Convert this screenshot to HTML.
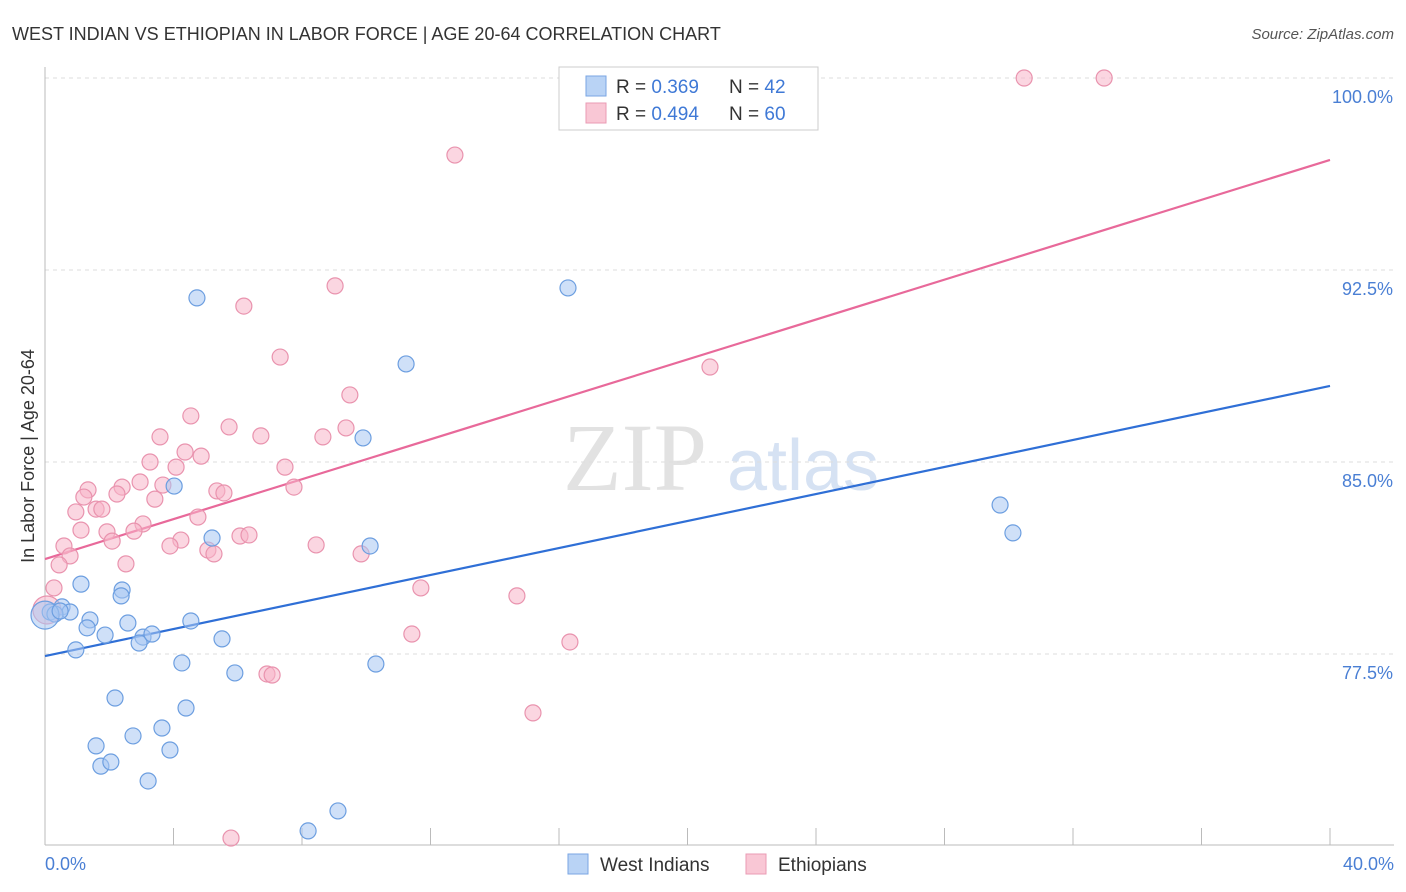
<!DOCTYPE html>
<html><head><meta charset="utf-8"><style>
body{margin:0;background:#fff;font-family:"Liberation Sans",sans-serif;}
svg{display:block}
</style></head><body>
<svg id="chart" width="1406" height="892" xmlns="http://www.w3.org/2000/svg">
<text x="12" y="40" font-size="18" fill="#333">WEST INDIAN VS ETHIOPIAN IN LABOR FORCE | AGE 20-64 CORRELATION CHART</text>
<text x="1394" y="39" font-size="15" fill="#555" text-anchor="end" font-style="italic">Source: ZipAtlas.com</text>
<g>
<text x="635" y="490" font-size="96" fill="#e2e2e2" font-family="Liberation Serif,serif" text-anchor="middle">ZIP</text>
<text x="803" y="490" font-size="72" fill="#d6e2f3" text-anchor="middle">atlas</text>
</g>
<g id="grid"></g>
<g id="axes"></g>
<g id="lines"></g>
<g id="points"></g>
<text transform="translate(34,456) rotate(-90)" font-size="18" fill="#333" text-anchor="middle">In Labor Force | Age 20-64</text>
<text x="45" y="870" font-size="18" fill="#4a7fd4">0.0%</text>
<text x="1394" y="870" font-size="18" fill="#4a7fd4" text-anchor="end">40.0%</text>
<g>
<rect x="559" y="67" width="259" height="63" fill="#fff" stroke="#ccc"/>
<rect x="586" y="76" width="20" height="20" fill="#b9d3f5" stroke="#7aa6e3"/>
<rect x="586" y="103" width="20" height="20" fill="#f9c7d5" stroke="#ea9bb4"/>
<text x="616" y="93" font-size="19" fill="#333">R = <tspan fill="#3f79d6">0.369</tspan></text>
<text x="729" y="93" font-size="19" fill="#333">N = <tspan fill="#3f79d6">42</tspan></text>
<text x="616" y="120" font-size="19" fill="#333">R = <tspan fill="#3f79d6">0.494</tspan></text>
<text x="729" y="120" font-size="19" fill="#333">N = <tspan fill="#3f79d6">60</tspan></text>
</g>
<g>
<rect x="568" y="854" width="20" height="20" fill="#b9d3f5" stroke="#7aa6e3"/>
<text x="600" y="871" font-size="19" fill="#333">West Indians</text>
<rect x="746" y="854" width="20" height="20" fill="#f9c7d5" stroke="#ea9bb4"/>
<text x="778" y="871" font-size="19" fill="#333">Ethiopians</text>
</g>
</svg>
<script>
const yTicks=[77.5,85.0,92.5,100.0];
const yTickLabels=["77.5%","85.0%","92.5%","100.0%"];
const xTicks=[0,4,8,12,16,20,24,28,32,36,40];
const blueX=[0.16,0.53,0.78,0.31,1.12,1.40,1.31,0.96,1.87,2.18,1.59,1.74,2.05,2.40,2.37,2.58,2.74,3.05,2.93,3.33,3.21,3.64,3.89,4.02,4.26,4.39,4.54,4.73,5.20,5.51,5.91,8.19,9.12,9.90,10.12,10.30,11.24,16.28,29.73,30.13,0.0,0.47];
const blueY=[79.14,79.34,79.14,79.06,80.23,78.83,78.52,77.66,78.24,75.78,73.91,73.12,73.28,80.0,79.77,78.71,74.30,78.16,77.93,78.28,72.54,74.61,73.75,84.06,77.15,75.39,78.79,91.41,82.03,78.09,76.76,70.59,71.37,85.94,81.72,77.11,88.83,91.80,83.32,82.23,79.02,79.18];
const pinkX=[30.48,32.97,12.76,9.03,6.19,7.32,20.70,9.49,4.54,5.73,3.58,6.72,8.65,9.37,4.36,4.86,3.27,4.08,7.47,1.34,2.40,2.96,3.67,5.35,5.57,7.75,2.24,1.21,3.42,1.59,1.77,0.96,4.76,3.05,1.12,1.93,2.77,4.23,2.09,3.89,6.07,6.35,8.44,0.59,5.07,5.26,9.84,0.78,0.44,2.52,0.28,11.70,14.69,0.06,11.42,16.34,6.91,7.07,15.19,5.79];
const pinkY=[100.0,100.0,96.99,91.88,91.09,89.10,88.71,87.62,86.80,86.37,85.98,86.02,85.98,86.33,85.39,85.23,85.0,84.80,84.80,83.91,84.02,84.22,84.10,83.87,83.79,84.02,83.75,83.63,83.55,83.16,83.16,83.05,82.85,82.58,82.34,82.27,82.30,81.95,81.91,81.72,82.11,82.15,81.76,81.72,81.56,81.41,81.41,81.33,80.98,81.02,80.08,80.08,79.77,79.22,78.28,77.97,76.72,76.68,75.20,70.31];
const blueTrend=[77.42,87.97];
const pinkTrend=[81.21,96.80];
const NS="http://www.w3.org/2000/svg";
const X=v=>45+v*32.125;
const Y=v=>78+(100-v)*25.6;
function mk(tag,attrs,parent){const e=document.createElementNS(NS,tag);for(const k in attrs)e.setAttribute(k,attrs[k]);document.getElementById(parent).appendChild(e);return e;}
yTicks.forEach((t,i)=>{
 const l=mk('line',{x1:45,x2:1394,y1:Y(t),y2:Y(t),stroke:'#ddd','stroke-dasharray':'4,4'},'grid');
 
 
 const tx=mk('text',{x:1393,y:Y(t)+25,'font-size':18,fill:'#4a7fd4','text-anchor':'end'},'grid');
 tx.textContent=yTickLabels[i];
 
 
});
const ax=mk('line',{x1:45,x2:45,y1:67,y2:845,stroke:'#bbb'},'axes');


const bx=mk('line',{x1:45,x2:1394,y1:845,y2:845,stroke:'#bbb'},'axes');


xTicks.forEach(t=>{
 const l=mk('line',{x1:X(t),x2:X(t),y1:828,y2:845,stroke:'#bbb'},'axes');
 
 
});
function pts(xs,ys,fill,stroke,name){
 xs.forEach((x,i)=>{
  const big=(x<0.1);
  const c=mk('circle',{cx:X(x),cy:Y(ys[i]),r:big?14:8,fill:fill,'fill-opacity':0.55,stroke:stroke,'stroke-width':1.2},'points');
  
  
 });
}
pts(pinkX,pinkY,'#f7b5c8','#e993ae','ethiopian-point');
pts(blueX,blueY,'#a8c7f2','#6c9ee0','west-indian-point');
const bl=mk('line',{x1:X(0),y1:Y(blueTrend[0]),x2:X(40),y2:Y(blueTrend[1]),stroke:'#2f6fd6','stroke-width':2.2},'lines');


const pl=mk('line',{x1:X(0),y1:Y(pinkTrend[0]),x2:X(40),y2:Y(pinkTrend[1]),stroke:'#e8699a','stroke-width':2.2},'lines');


</script>
</body></html>
